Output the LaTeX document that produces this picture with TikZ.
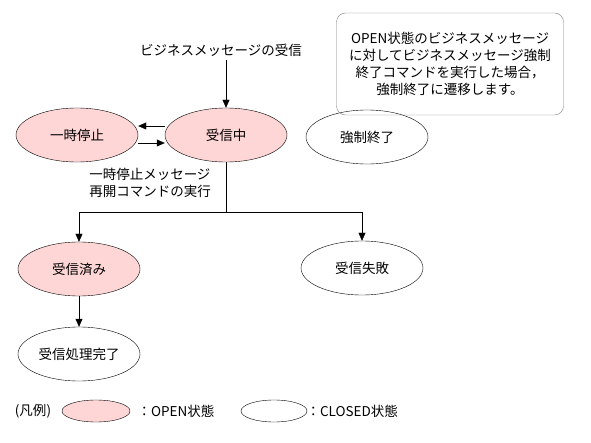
\documentclass[tikz,border=0pt]{standalone}
\usepackage{fontspec}
\setmainfont{Noto Sans CJK JP}
\usetikzlibrary{arrows.meta,shapes.geometric}
\definecolor{openpink}{RGB}{255,214,214}
\tikzset{
  openstate/.style={ % image of a state in the OPEN condition
    draw, ellipse, fill=openpink, text=black,
    minimum width=122pt, minimum height=54pt, inner sep=0pt
  },
  closedstate/.style={ % image of a state in the CLOSED condition
    draw, ellipse, fill=white, text=black,
    minimum width=122pt, minimum height=54pt, inner sep=0pt
  },
  legendopen/.style={
    draw, ellipse, fill=openpink, minimum width=68pt, minimum height=22pt
  },
  legendclosed/.style={
    draw, ellipse, fill=white, minimum width=66pt, minimum height=22pt
  },
  notebox/.style={
    draw=gray, rounded corners=9pt, minimum width=227pt, minimum height=102pt,
    align=center, inner sep=2pt
  },
  arr/.style={-{Triangle[length=8pt,width=7pt]}}
}

\begin{document}
\begin{tikzpicture}[
      x=1pt, y=-1pt, font=\fontsize{13.5}{17}\selectfont, thin
    ]
      \useasboundingbox (0,0) rectangle (591,443);

      \node[openstate] (P) at (77,135) {一時停止};
      \node[openstate] (R) at (226,135) {受信中};
      \node[closedstate] (K) at (367,137) {強制終了};
      \node[openstate] (D) at (79,269) {受信済み};
      \node[closedstate] (F) at (362,268) {受信失敗};
      \node[closedstate] (C) at (79,354) {受信処理完了};
      \node[notebox] (note) at (450,64) {OPEN状態のビジネスメッセージ\\
        に対してビジネスメッセージ強制\\終了コマンドを実行した場合，\\
        強制終了に遷移します。};

      \node (recv_label) at (221,50) {ビジネスメッセージの受信};
      \node[align=left] (pause_label) at (150,183) {一時停止メッセージ\\再開コマンドの実行};

      \draw[arr] (recv_label.south -| R.north) -- (R.north);
      \draw[arr] ([yshift=9pt]R.west) -- ([yshift=9pt]P.east);
      \draw[arr] ([yshift=-8pt]P.east) -- ([yshift=-8pt]R.west);
      \draw (R.south) -- (226,212) coordinate (split);
      \draw[arr] (split) -| (D.north);
      \draw[arr] (split) -| (F.north);
      \draw[arr] (D.south) -- (C.north);

      % legend
      \node (legend_label) at (33,411) {(凡例)};
      \node[legendopen] (lo) at (96,411) {};
      \node[anchor=west] (lo_text) at (134,411) {：OPEN状態};
      \node[legendclosed] (lc) at (274,411) {};
      \node[anchor=west] (lc_text) at (303,411) {：CLOSED状態};
    \end{tikzpicture}
\end{document}
